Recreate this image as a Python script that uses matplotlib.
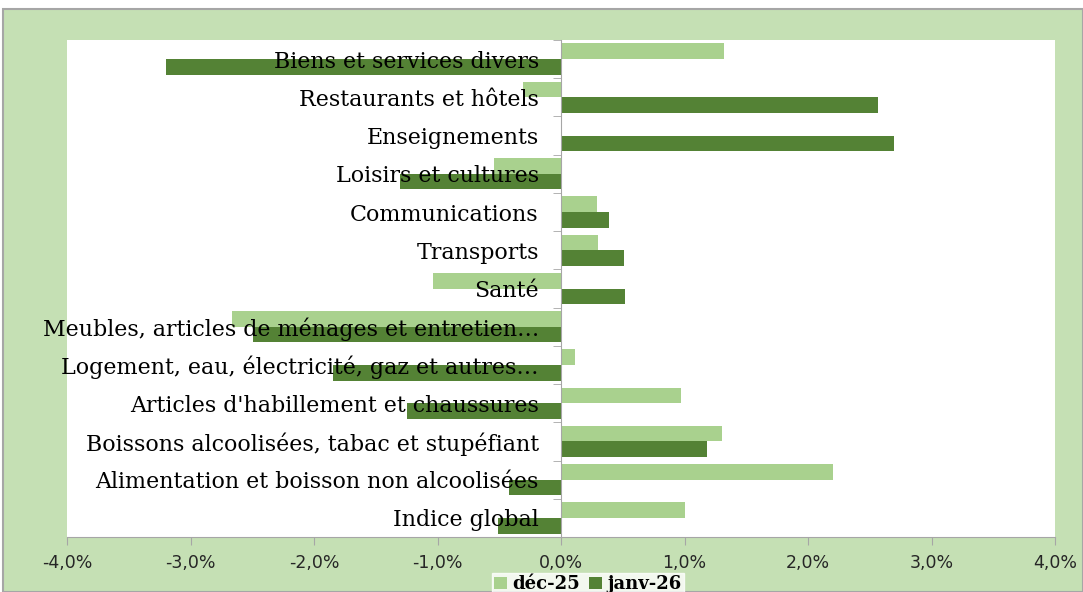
import numpy as np
import matplotlib.pyplot as plt
from matplotlib.patches import Rectangle
from matplotlib.ticker import FuncFormatter, FixedLocator

categories = [
    "Indice global",
    "Alimentation et boisson non alcoolisées",
    "Boissons alcoolisées, tabac et stupéfiant",
    "Articles d'habillement et chaussures",
    "Logement, eau, électricité, gaz et autres…",
    "Meubles, articles de ménages et entretien…",
    "Santé",
    "Transports",
    "Communications",
    "Loisirs et cultures",
    "Enseignements",
    "Restaurants et hôtels",
    "Biens et services divers",
]
dec25 = [1.00, 2.20, 1.30, 0.97, 0.11, -2.66, -1.04, 0.30, 0.29, -0.54, 0.0, -0.31, 1.32]
janv26 = [-0.51, -0.42, 1.18, -1.25, -1.85, -2.49, 0.52, 0.51, 0.39, -1.30, 2.70, 2.57, -3.20]

light = "#A9D18E"
dark = "#548235"
bg = "#C5E0B4"

fig = plt.figure(figsize=(10.83, 5.92), dpi=100)
fig.patch.set_facecolor("white")
fig.patches.append(Rectangle((3 / 1083, 0), 1 - 3 / 1083, 1 - 9 / 592,
                             transform=fig.transFigure, facecolor=bg,
                             edgecolor="#A6A6A6", linewidth=1.5, zorder=-10))

ax = fig.add_axes([67 / 1083, 1 - 537 / 592, (1055 - 67) / 1083, (537 - 40) / 592])
ax.set_facecolor("white")

y = np.arange(len(categories))
h = 0.41
ax.barh(y + h / 2, dec25, height=h, color=light, label="déc-25", zorder=1)
ax.barh(y - h / 2, janv26, height=h, color=dark, label="janv-26", zorder=1)

ax.set_xlim(-4, 4)
ax.set_ylim(-0.5, len(categories) - 0.5)

for s in ["top", "right"]:
    ax.spines[s].set_visible(False)
ax.spines["left"].set_position(("data", 0))
ax.spines["left"].set_color("#A6A6A6")
ax.spines["bottom"].set_color("#A6A6A6")

ax.set_xticks(np.arange(-4, 5, 1))
ax.xaxis.set_major_formatter(FuncFormatter(lambda v, p: f"{v:.1f}%".replace(".", ",")))
ax.tick_params(axis="x", direction="out", length=6, color="#A6A6A6", pad=6,
               labelsize=12.5, labelcolor="#262626")

ax.set_yticks(y)
ax.set_yticklabels(categories, fontfamily="DejaVu Serif", fontsize=15.9)
ax.tick_params(axis="y", which="major", length=0, pad=16)
ax.yaxis.set_minor_locator(FixedLocator(np.arange(-0.5, len(categories), 1)))
ax.tick_params(axis="y", which="minor", length=6, color="#A6A6A6", direction="out")

leg = fig.legend(loc="lower center", bbox_to_anchor=(0.543, -0.022), ncol=2,
                 frameon=True, fancybox=False, handlelength=0.7, handleheight=0.7,
                 handletextpad=0.3, columnspacing=0.5, borderpad=0.15,
                 prop={"family": "DejaVu Serif", "weight": "bold", "size": 13})
leg.get_frame().set_facecolor("white")
leg.get_frame().set_edgecolor("white")

fig.savefig("out.png", dpi=100, facecolor=fig.get_facecolor())
